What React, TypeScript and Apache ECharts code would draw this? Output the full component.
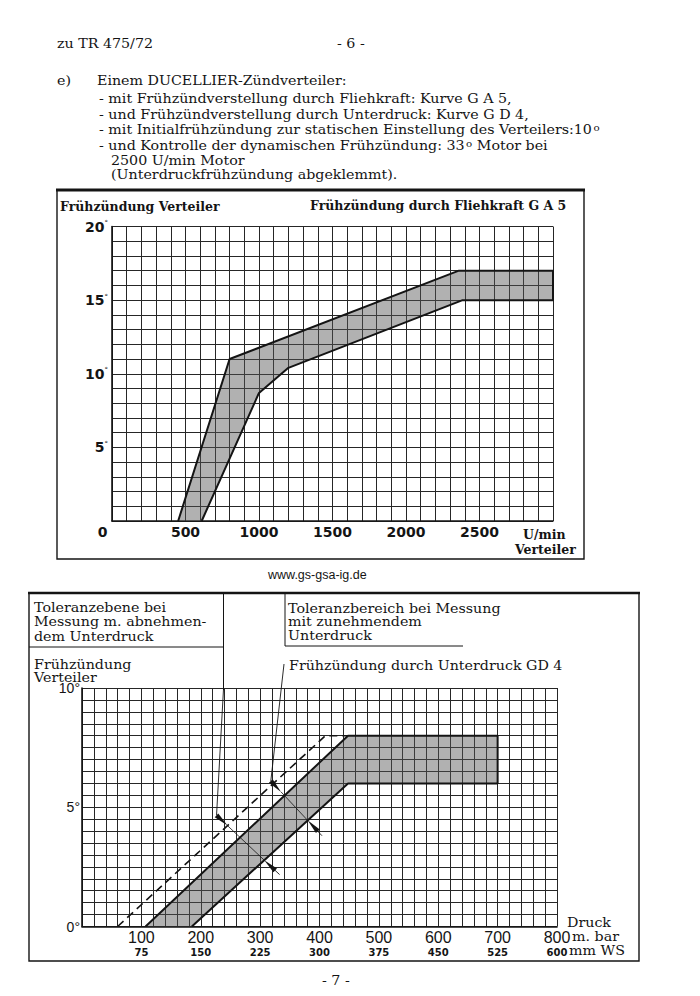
import React, { useEffect, useRef } from 'react';
import * as echarts from 'echarts';

// ---------- Chart 1: Frühzündung durch Fliehkraft G A 5 ----------
const rpmMin = 0;
const rpmMax = 3000;
const rpmStep = 500;
const degMax1 = 20;
const degStep1 = 5;
// upper (left) boundary of tolerance band [U/min, °]
const ga5Upper = [[450, 0], [800, 11], [2360, 17], [3000, 17]];
// lower (right) boundary of tolerance band
const ga5Lower = [[610, 0], [1000, 8.7], [1200, 10.4], [2385, 15], [3000, 15]];

// ---------- Chart 2: Frühzündung durch Unterdruck GD 4 ----------
const mbarMax = 800;
const mbarStep = 100;
const degMax2 = 10;
const degStep2 = 5;
const mbarTicks = [100, 200, 300, 400, 500, 600, 700, 800];
const mmWsTicks = ['75', '150', '225', '300', '375', '450', '525', '600'];
// band measured with increasing vacuum
const gd4Upper = [[107, 0], [448, 8], [700, 8]];
const gd4Lower = [[185, 0], [448, 6], [700, 6]];
// dashed line: decreasing vacuum
const gd4Dashed = [[60, 0], [410, 8], [448, 8]];
// annotation arrow anchor points (on the curves) [mbar, °]
const arrowA = [245, 4.23]; // on dashed line
const arrowB = [307, 2.78]; // on lower line
const arrowC = [341, 5.49]; // on upper line
const arrowD = [380, 4.45]; // on lower line

const SERIF = 'DejaVu Serif';
const INK = '#141414';

function txt(x: number, y: number, text: string, o: any = {}) {
  return {
    type: 'text',
    x,
    y,
    scaleX: o.scaleX ?? 1,
    z: 20,
    style: {
      text,
      fontFamily: o.fontFamily ?? SERIF,
      fontSize: o.fontSize ?? 12.5,
      fontWeight: o.fontWeight ?? 'normal',
      fill: o.fill ?? INK,
      align: o.align ?? 'left',
      verticalAlign: 'middle',
      rich: o.rich,
    },
  };
}
function seg(x1: number, y1: number, x2: number, y2: number, w = 1) {
  return { type: 'line', z: 20, shape: { x1, y1, x2, y2 }, style: { stroke: INK, lineWidth: w } };
}

const bodyO = { fontSize: 12.5, scaleX: 1.14 };
const supRich = { s: { fontFamily: SERIF, fontSize: 9, fill: INK, verticalAlign: 'top', padding: [0, 0, 4, 1] } };

const staticGraphics: any[] = [
  txt(57, 44, 'zu TR 475/72', bodyO),
  txt(337, 44, '- 6 -', bodyO),
  txt(57, 81, 'e)', bodyO),
  txt(97, 81, 'Einem DUCELLIER-Zündverteiler:', bodyO),
  txt(99, 99, '- mit Frühzündverstellung durch Fliehkraft: Kurve G A 5,', bodyO),
  txt(99, 115, '- und Frühzündverstellung durch Unterdruck: Kurve G D 4,', bodyO),
  txt(99, 130, '- mit Initialfrühzündung zur statischen Einstellung des Verteilers:10{s|o}', { ...bodyO, rich: supRich }),
  txt(99, 146, '- und Kontrolle der dynamischen Frühzündung: 33{s|o} Motor bei', { ...bodyO, rich: supRich }),
  txt(111, 161, '2500 U/min Motor', bodyO),
  txt(111, 175, '(Unterdruckfrühzündung abgeklemmt).', bodyO),

  // frame 1
  { type: 'rect', z: 19, shape: { x: 57, y: 190, width: 527, height: 369 }, style: { fill: 'none', stroke: INK, lineWidth: 1.4 } },
  seg(56, 190, 585, 190, 3),
  txt(60, 206, 'Frühzündung Verteiler', { fontSize: 12.5, fontWeight: 'bold' }),
  txt(310, 205, 'Frühzündung durch Fliehkraft G A 5', { fontSize: 12.5, fontWeight: 'bold' }),
  txt(523, 534, 'U/min', { fontSize: 12.5, fontWeight: 'bold' }),
  txt(515, 549, 'Verteiler', { fontSize: 12.5, fontWeight: 'bold' }),
  txt(268, 575, 'www.gs-gsa-ig.de', { fontFamily: 'Liberation Sans', fontSize: 12.5 }),

  // frame 2
  { type: 'rect', z: 19, shape: { x: 29, y: 593, width: 610, height: 368 }, style: { fill: 'none', stroke: INK, lineWidth: 1.4 } },
  seg(28, 593, 640, 593, 2.5),
  seg(29, 647, 223.5, 647, 1),
  seg(223.5, 593, 223.5, 690, 1),
  seg(285, 593, 285, 646, 1),
  seg(285, 646, 463, 646, 1),
  txt(34, 608, 'Toleranzebene bei', bodyO),
  txt(34, 622, 'Messung m. abnehmen-', bodyO),
  txt(34, 636.5, 'dem Unterdruck', bodyO),
  txt(288, 608.5, 'Toleranzbereich bei Messung', bodyO),
  txt(288, 622, 'mit zunehmendem', bodyO),
  txt(288, 636, 'Unterdruck', bodyO),
  txt(34, 665, 'Frühzündung', bodyO),
  txt(34, 678, 'Verteiler', bodyO),
  txt(289, 666, 'Frühzündung durch Unterdruck GD 4', bodyO),
  txt(567, 923, 'Druck', bodyO),
  txt(572, 937, 'm. bar', bodyO),
  txt(569, 951, 'mm WS', bodyO),
  txt(322, 981, '- 7 -', bodyO),
];

const gridLine = { color: '#262626', width: 1 };

function bandSeries(upper: number[][], lower: number[][], idx: number) {
  const poly = [...upper, ...lower.slice().reverse()];
  return {
    type: 'custom',
    xAxisIndex: idx,
    yAxisIndex: idx,
    z: 1,
    silent: true,
    data: poly,
    encode: { x: 0, y: 1 },
    renderItem: (params: any, api: any) => {
      if (params.dataIndex !== 0) return null;
      const pts = poly.map((p) => api.coord(p));
      return { type: 'polygon', shape: { points: pts }, style: { fill: 'rgba(85,85,85,0.46)', stroke: 'none' } };
    },
  };
}

const option: any = {
  animation: false,
  backgroundColor: '#ffffff',
  grid: [
    { left: 112, top: 226.5, width: 441, height: 294.5 },
    { left: 82, top: 688, width: 475, height: 238.5 },
  ],
  xAxis: [
    {
      gridIndex: 0,
      type: 'value',
      min: rpmMin,
      max: rpmMax,
      interval: rpmStep,
      axisLine: { show: true, onZero: false, lineStyle: { color: INK, width: 1.6 } },
      axisTick: { show: false },
      axisLabel: {
        margin: 4,
        color: INK,
        fontFamily: 'DejaVu Sans',
        fontWeight: 'bold',
        fontSize: 14,
        formatter: (v: number) => (v === 0 ? '{z|0}' : v === rpmMax ? '' : String(v)),
        rich: { z: { fontFamily: 'DejaVu Sans', fontWeight: 'bold', fontSize: 14, color: INK, padding: [0, 19, 0, 0] } },
      },
      splitLine: { show: true, lineStyle: gridLine },
      minorTick: { show: false, splitNumber: 5 },
      minorSplitLine: { show: true, lineStyle: gridLine },
    },
    {
      gridIndex: 1,
      type: 'value',
      min: 0,
      max: mbarMax,
      interval: mbarStep,
      axisLine: { show: true, onZero: false, lineStyle: { color: INK, width: 1.6 } },
      axisTick: { show: false },
      axisLabel: {
        margin: 3,
        color: INK,
        formatter: (v: number) => {
          const i = mbarTicks.indexOf(v);
          return i < 0 ? '' : `{a|${v}}\n{b|${mmWsTicks[i]}}`;
        },
        rich: {
          a: { fontFamily: 'Liberation Sans', fontSize: 16, color: INK, lineHeight: 16 },
          b: { fontFamily: 'DejaVu Sans', fontWeight: 'bold', fontSize: 10, color: INK, lineHeight: 14 },
        },
      },
      splitLine: { show: true, lineStyle: gridLine },
      minorTick: { show: false, splitNumber: 5 },
      minorSplitLine: { show: true, lineStyle: gridLine },
    },
  ],
  yAxis: [
    {
      gridIndex: 0,
      type: 'value',
      min: 0,
      max: degMax1,
      interval: degStep1,
      axisLine: { show: true, lineStyle: { color: INK, width: 1.6 } },
      axisTick: { show: false },
      axisLabel: {
        margin: 4,
        color: INK,
        formatter: (v: number) => (v === 0 ? '' : `{n|${v}}{d|°}`),
        rich: {
          n: { fontFamily: 'DejaVu Sans', fontWeight: 'bold', fontSize: 14, color: INK },
          d: { fontFamily: 'DejaVu Sans', fontSize: 7, color: INK, verticalAlign: 'top', padding: [0, 0, 6, 0] },
        },
      },
      splitLine: { show: true, lineStyle: gridLine },
      minorTick: { show: false, splitNumber: 5 },
      minorSplitLine: { show: true, lineStyle: gridLine },
    },
    {
      gridIndex: 1,
      type: 'value',
      min: 0,
      max: degMax2,
      interval: degStep2,
      axisLine: { show: true, lineStyle: { color: INK, width: 1.6 } },
      axisTick: { show: false },
      axisLabel: {
        margin: 2,
        color: INK,
        fontFamily: 'Liberation Sans',
        fontSize: 14,
        formatter: (v: number) => `${v}°`,
      },
      splitLine: { show: true, lineStyle: gridLine },
      minorTick: { show: false, splitNumber: 10 },
      minorSplitLine: { show: true, lineStyle: gridLine },
    },
  ],
  series: [
    bandSeries(ga5Upper, ga5Lower, 0),
    {
      type: 'line',
      xAxisIndex: 0,
      yAxisIndex: 0,
      z: 3,
      symbol: 'none',
      silent: true,
      data: [...ga5Upper, ...ga5Lower.slice().reverse()],
      lineStyle: { color: INK, width: 2 },
    },
    bandSeries(gd4Upper, gd4Lower, 1),
    {
      type: 'line',
      xAxisIndex: 1,
      yAxisIndex: 1,
      z: 3,
      symbol: 'none',
      silent: true,
      data: [...gd4Upper, ...gd4Lower.slice().reverse()],
      lineStyle: { color: INK, width: 2 },
    },
    {
      type: 'line',
      xAxisIndex: 1,
      yAxisIndex: 1,
      z: 3,
      symbol: 'none',
      silent: true,
      data: gd4Dashed,
      lineStyle: { color: INK, width: 1.6, type: [8, 5] },
    },
  ],
};

type V = number[];
const sub = (a: V, b: V) => [a[0] - b[0], a[1] - b[1]];
const add = (a: V, b: V) => [a[0] + b[0], a[1] + b[1]];
const mul = (a: V, k: number) => [a[0] * k, a[1] * k];
const norm = (v: V) => {
  const l = Math.hypot(v[0], v[1]);
  return [v[0] / l, v[1] / l];
};
function head(tip: V, u: V, L = 15, w = 2.6) {
  const b = sub(tip, mul(u, L));
  const n = [-u[1], u[0]];
  return { type: 'polygon', z: 21, shape: { points: [tip, add(b, mul(n, w)), add(b, mul(n, -w))] }, style: { fill: INK } };
}
function pl(points: V[], w = 0.9) {
  return { type: 'polyline', z: 20, shape: { points }, style: { stroke: INK, lineWidth: w, fill: 'none' } };
}

export default function App() {
  const ref = useRef<HTMLDivElement>(null);
  useEffect(() => {
    const el = ref.current!;
    const chart = echarts.init(el, null, { renderer: 'svg', width: 700, height: 996 });
    chart.setOption(option);
    const px = (p: V) => chart.convertToPixel({ gridIndex: 1 }, p) as unknown as V;
    const A = px(arrowA);
    const B = px(arrowB);
    const C = px(arrowC);
    const D = px(arrowD);
    const u1 = norm(sub(B, A));
    const u2 = norm(sub(D, C));
    const Ct = sub(C, mul(u2, 5));
    const arrows: any[] = [
      pl([[223.5, 689], sub(A, mul(u1, 15))]),
      head(A, u1),
      pl([A, B], 0.8),
      head(B, mul(u1, -1)),
      pl([add(B, mul(u1, 14)), add(B, mul(u1, 21))], 0.9),
      pl([[284, 664], sub(Ct, mul(u2, 15))]),
      head(Ct, u2),
      pl([Ct, D], 0.8),
      head(D, mul(u2, -1)),
      pl([add(D, mul(u2, 14)), add(D, mul(u2, 21))], 0.9),
    ];
    chart.setOption({ graphic: { elements: [...staticGraphics, ...arrows] } });
    return () => chart.dispose();
  }, []);
  return (
    <div
      ref={ref}
      style={{ position: 'fixed', left: 0, top: 0, width: 700, height: 996, background: '#ffffff' }}
    />
  );
}
